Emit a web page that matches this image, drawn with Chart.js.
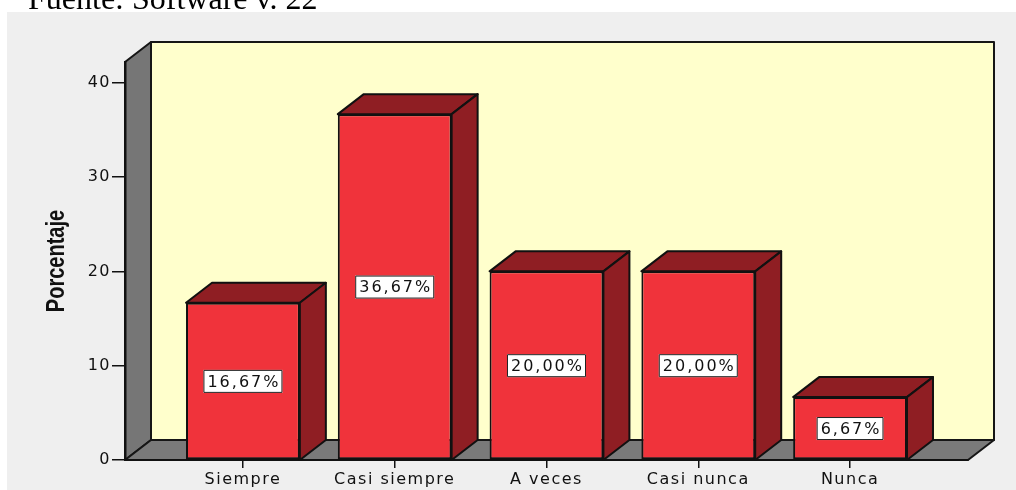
<!DOCTYPE html>
<html>
<head>
<meta charset="utf-8">
<title>Porcentaje</title>
<script src="https://cdn.jsdelivr.net/npm/chart.js@4/dist/chart.umd.min.js"></script>
<style>
  body { margin: 0; background: #fff; }
  #wrap { position: relative; width: 1016px; height: 490px; overflow: hidden; }
  #grafico { position: absolute; left: 0; top: 0; }
  #fuente {
    position: absolute; left: 28px; top: -18px; z-index: 2;
    font: 32px/32px "Liberation Serif", "Times New Roman", serif;
    color: #000; white-space: nowrap;
  }
</style>
</head>
<body>
<div id="wrap">
  <canvas id="grafico" width="1016" height="490"></canvas>
  <div id="fuente">Fuente: Software v. 22</div>
</div>
<script>
const categorias = ['Siempre', 'Casi siempre', 'A veces', 'Casi nunca', 'Nunca']
const porcentajes = [16.67, 36.67, 20.00, 20.00, 6.67]
const yTicks = [0, 10, 20, 30, 40]
const etiquetas = porcentajes.map(v => v.toFixed(2).replace('.', ',') + '%')

// profundidad del efecto 3D (desplazamiento hacia atras)
const prof = { dx: 26, dy: -20 }

function poly(ctx, pts, fill) {
  ctx.beginPath()
  ctx.moveTo(pts[0][0], pts[0][1])
  for (let i = 1; i < pts.length; i++) ctx.lineTo(pts[i][0], pts[i][1])
  ctx.closePath()
  ctx.fillStyle = fill
  ctx.fill()
  ctx.stroke()
}

const caja3d = {
  id: 'caja3d',
  beforeDraw(chart) {
    const ctx = chart.ctx
    const a = chart.chartArea
    const { dx, dy } = prof
    ctx.save()
    ctx.fillStyle = '#efefef'
    ctx.fillRect(7, 12, chart.width - 7, chart.height - 12)
    ctx.lineWidth = 2
    ctx.strokeStyle = '#161616'
    ctx.lineJoin = 'round'
    // pared del fondo
    poly(ctx, [[a.left + dx, a.top + dy], [a.right + dx, a.top + dy], [a.right + dx, a.bottom + dy], [a.left + dx, a.bottom + dy]], '#ffffcc')
    // pared izquierda
    poly(ctx, [[a.left, a.top], [a.left + dx, a.top + dy], [a.left + dx, a.bottom + dy], [a.left, a.bottom]], '#767676')
    // suelo
    poly(ctx, [[a.left, a.bottom], [a.left + dx, a.bottom + dy], [a.right + dx, a.bottom + dy], [a.right, a.bottom]], '#7a7a7a')
    ctx.restore()
    // las etiquetas de los ejes van algo espaciadas
    ctx.letterSpacing = '1.5px'
  },
  afterDatasetsDraw(chart) {
    const ctx = chart.ctx
    const base = chart.scales.y.getPixelForValue(0)
    const { dx, dy } = prof
    ctx.save()
    ctx.lineWidth = 2
    ctx.strokeStyle = '#111'
    ctx.lineJoin = 'round'
    chart.getDatasetMeta(0).data.forEach((bar, i) => {
      const p = bar.getProps(['x', 'y', 'width'], true)
      const x0 = p.x - p.width / 2
      const x1 = p.x + p.width / 2
      // tapa y lateral de la barra
      poly(ctx, [[x0, p.y], [x0 + dx, p.y + dy], [x1 + dx, p.y + dy], [x1, p.y]], '#8f1e23')
      poly(ctx, [[x1, p.y], [x1 + dx, p.y + dy], [x1 + dx, base + dy], [x1, base]], '#8f1e23')

      // etiqueta con el valor
      ctx.save()
      ctx.font = '16px "DejaVu Sans"'
      ctx.letterSpacing = '2px'
      const w = ctx.measureText(etiquetas[i]).width + 6
      const h = 23
      const cy = (p.y + base) / 2
      ctx.fillStyle = '#fff'
      ctx.lineWidth = 1
      ctx.strokeStyle = '#222'
      ctx.fillRect(p.x - w / 2, cy - h / 2, w, h)
      ctx.strokeRect(p.x - w / 2 + 0.5, cy - h / 2 + 0.5, w - 1, h - 1)
      ctx.fillStyle = '#111'
      ctx.textAlign = 'center'
      ctx.textBaseline = 'middle'
      ctx.fillText(etiquetas[i], p.x + 1, cy + 1)
      ctx.restore()
    })
    ctx.restore()
  },
  afterDraw(chart) {
    const ctx = chart.ctx
    const a = chart.chartArea
    ctx.save()
    ctx.letterSpacing = '0px'
    ctx.translate(64, (a.top + a.bottom) / 2)
    ctx.rotate(-Math.PI / 2)
    ctx.scale(0.8, 1)
    ctx.font = 'bold 25px "Liberation Sans Narrow", "Arial Narrow", "Liberation Sans", sans-serif'
    ctx.fillStyle = '#111'
    ctx.textAlign = 'center'
    ctx.textBaseline = 'alphabetic'
    ctx.fillText('Porcentaje', 0, 0)
    ctx.restore()
  }
}

const ctx = document.getElementById('grafico').getContext('2d')
let grafico = new Chart(ctx, {
  type: 'bar',
  data: {
    datasets: [
      {
        label: 'Porcentaje',
        data: categorias.map((c, i) => ({ x: i, y: porcentajes[i] })),
        backgroundColor: '#f0333b',
        borderColor: '#111',
        borderWidth: 2,
        borderSkipped: false,
        barPercentage: 0.75,
        categoryPercentage: 1,
      },
    ],
  },
  options: {
    responsive: false,
    animation: false,
    layout: { padding: { left: 0, top: 62, right: 48, bottom: 0 } },
    plugins: {
      legend: { display: false },
      tooltip: { enabled: false },
    },
    scales: {
      x: {
        type: 'linear',
        offset: false,
        min: -0.777,
        max: 4.777,
        afterBuildTicks: (s) => { s.ticks = categorias.map((c, i) => ({ value: i })) },
        afterFit: (s) => { s.height = 30 },
        ticks: {
          callback: (v) => categorias[v],
          font: { family: 'DejaVu Sans', size: 16 },
          color: '#111',
          padding: 2,
          maxRotation: 0,
          autoSkip: false,
        },
        grid: { offset: false, drawOnChartArea: false, tickLength: 8, color: '#111', lineWidth: 1.5 },
        border: { display: true, color: '#111', width: 2 },
      },
      y: {
        min: 0,
        max: 42.2,
        afterBuildTicks: (s) => { s.ticks = yTicks.map(v => ({ value: v })) },
        afterFit: (s) => { s.width = 125 },
        ticks: {
          font: { family: 'DejaVu Sans', size: 16 },
          color: '#111',
          padding: 1,
        },
        grid: { drawOnChartArea: false, tickLength: 13, color: '#111', lineWidth: 1.5 },
        border: { display: true, color: '#111', width: 2.5 },
      },
    },
  },
  plugins: [caja3d],
})
</script>
</body>
</html>
